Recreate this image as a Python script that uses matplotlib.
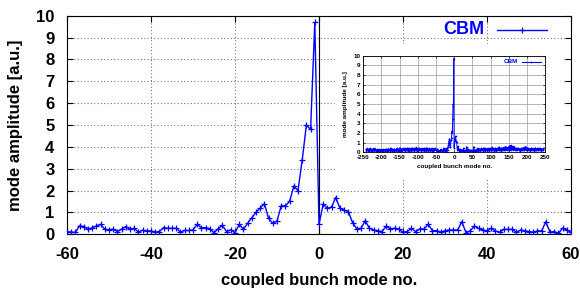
import matplotlib
matplotlib.use("Agg")
import matplotlib.pyplot as plt

plt.rcParams['font.family'] = ['Liberation Sans', 'DejaVu Sans']
plt.rcParams['font.weight'] = 'bold'
plt.rcParams['axes.unicode_minus'] = False

# main plot data: coupled bunch modes -60..60
modes = list(range(-60, 61))
amplitude = [
    0.11, 0.10, 0.08, 0.39, 0.35, 0.23, 0.29, 0.38, 0.45, 0.23,
    0.20, 0.23, 0.12, 0.23, 0.35, 0.23, 0.27, 0.10, 0.18, 0.15,
    0.15, 0.10, 0.12, 0.30, 0.27, 0.27, 0.27, 0.10, 0.17, 0.17,
    0.20, 0.45, 0.30, 0.30, 0.25, 0.07, 0.25, 0.40, 0.12, 0.20,
    0.07, 0.45, 0.22, 0.50, 0.75, 1.00, 1.20, 1.40, 0.72, 0.50,
    0.60, 1.30, 1.30, 1.50, 2.20, 2.00, 3.40, 5.00, 4.80, 9.70,
    0.45,
    1.38, 1.18, 1.25, 1.68, 1.18, 1.10, 1.03, 0.53, 0.24, 0.27,
    0.62, 0.27, 0.19, 0.16, 0.12, 0.37, 0.24, 0.27, 0.22, 0.09,
    0.12, 0.27, 0.12, 0.24, 0.24, 0.45, 0.16, 0.16, 0.09, 0.16,
    0.19, 0.19, 0.19, 0.57, 0.07, 0.15, 0.37, 0.27, 0.19, 0.15,
    0.27, 0.15, 0.09, 0.22, 0.22, 0.22, 0.09, 0.19, 0.15, 0.12,
    0.09, 0.15, 0.15, 0.57, 0.09, 0.12, 0.04, 0.27, 0.19, 0.09,
]

# inset: remaining modes
modes_left = list(range(-242, -60))
amp_left = [
    0.30, 0.12, 0.35, 0.22, 0.40, 0.18, 0.28, 0.33, 0.15, 0.38,
    0.25, 0.20, 0.42, 0.17, 0.30, 0.27, 0.12, 0.35, 0.22, 0.31,
    0.19, 0.40, 0.26, 0.14, 0.33, 0.21, 0.37, 0.16, 0.29, 0.24,
    0.11, 0.30, 0.20, 0.26, 0.15, 0.32, 0.18, 0.23, 0.28, 0.13,
    0.25, 0.19, 0.30, 0.14, 0.22, 0.27, 0.17, 0.31, 0.12, 0.24,
    0.20, 0.28, 0.15, 0.33, 0.18, 0.26, 0.21, 0.35, 0.16, 0.29,
    0.23, 0.14, 0.38, 0.19, 0.27, 0.31, 0.17, 0.24, 0.45, 0.20,
    0.28, 0.15, 0.34, 0.22, 0.18, 0.30, 0.25, 0.13, 0.36, 0.21,
    0.27, 0.19, 0.32, 0.16, 0.40, 0.23, 0.29, 0.14, 0.35, 0.26,
    0.18, 0.31, 0.22, 0.48, 0.20, 0.33, 0.17, 0.28, 0.24, 0.37,
    0.15, 0.30, 0.42, 0.21, 0.34, 0.19, 0.27, 0.44, 0.16, 0.32,
    0.25, 0.38, 0.20, 0.29, 0.46, 0.18, 0.35, 0.23, 0.41, 0.17,
    0.30, 0.26, 0.39, 0.14, 0.33, 0.22, 0.47, 0.19, 0.28, 0.36,
    0.21, 0.43, 0.16, 0.31, 0.25, 0.38, 0.20, 0.29, 0.50, 0.18,
    0.34, 0.24, 0.40, 0.15, 0.32, 0.27, 0.44, 0.21, 0.30, 0.37,
    0.17, 0.35, 0.26, 0.42, 0.19, 0.31, 0.23, 0.39, 0.14, 0.28,
    0.45, 0.20, 0.33, 0.25, 0.38, 0.16, 0.30, 0.48, 0.22, 0.35,
    0.18, 0.29, 0.41, 0.24, 0.32, 0.15, 0.37, 0.21, 0.30, 0.26,
    0.43, 0.19,
]
modes_right = list(range(61, 247))
amp_right = [
    0.22, 0.35, 0.18, 0.30, 0.41, 0.15, 0.27, 0.38, 0.20, 0.33,
    0.25, 0.12, 0.36, 0.29, 0.44, 0.19, 0.31, 0.24, 0.40, 0.17,
    0.28, 0.35, 0.21, 0.47, 0.26, 0.14, 0.32, 0.39, 0.23, 0.30,
    0.18, 0.42, 0.27, 0.34, 0.16, 0.38, 0.25, 0.45, 0.20, 0.31,
    0.36, 0.22, 0.29, 0.50, 0.19, 0.33, 0.26, 0.41, 0.15, 0.37,
    0.28, 0.23, 0.46, 0.30, 0.18, 0.35, 0.42, 0.24, 0.32, 0.20,
    0.39, 0.27, 0.55, 0.21, 0.34, 0.29, 0.44, 0.17, 0.36, 0.25,
    0.48, 0.22, 0.31, 0.38, 0.26, 0.52, 0.19, 0.35, 0.28, 0.43,
    0.24, 0.60, 0.30, 0.37, 0.21, 0.49, 0.33, 0.27, 0.56, 0.23,
    0.40, 0.68, 0.29, 0.45, 0.35, 0.72, 0.26, 0.51, 0.38, 0.31,
    0.62, 0.24, 0.43, 0.34, 0.57, 0.28, 0.39, 0.22, 0.47, 0.32,
    0.26, 0.41, 0.19, 0.36, 0.30, 0.44, 0.23, 0.33, 0.27, 0.39,
    0.18, 0.35, 0.29, 0.42, 0.21, 0.31, 0.25, 0.46, 0.20, 0.34,
    0.28, 0.53, 0.24, 0.37, 0.30, 0.58, 0.22, 0.40, 0.33, 0.48,
    0.26, 0.36, 0.19, 0.43, 0.29, 0.32, 0.24, 0.39, 0.17, 0.35,
    0.27, 0.45, 0.21, 0.31, 0.38, 0.25, 0.42, 0.18, 0.34, 0.28,
    0.36, 0.22, 0.47, 0.26, 0.33, 0.19, 0.40, 0.29, 0.24, 0.37,
    0.20, 0.32, 0.44, 0.27, 0.35, 0.23, 0.41, 0.30, 0.18, 0.38,
    0.25, 0.33, 0.21, 0.36, 0.28, 0.45,
]

xticks = [-60, -40, -20, 0, 20, 40, 60]
yticks = list(range(0, 11))
inset_xticks = list(range(-250, 251, 50))

blue = '#0000ff'

fig = plt.figure(figsize=(5.8, 2.91), dpi=100)
ax = fig.add_axes([0.1155, 0.1952, 0.869, 0.7505])

ax.plot(modes, amplitude, color=blue, lw=1.0, marker='+', ms=5, mew=0.9, zorder=3)
ax.axvline(0, color='black', lw=0.8, zorder=2)
ax.set_xlim(-60, 60)
ax.set_ylim(0, 10)
ax.set_xticks(xticks)
ax.set_yticks(yticks)
ax.tick_params(direction='in', top=True, right=True, length=4, width=0.8,
               labelsize=12)
ax.tick_params(axis='x', pad=9)
ax.tick_params(axis='y', pad=9)
for lab in ax.get_xticklabels() + ax.get_yticklabels():
    lab.set_fontweight('bold')
ax.grid(True, color='#777777', lw=0.8, linestyle=(0, (1, 2)))
ax.set_xlabel('coupled bunch mode no.', fontsize=12, fontweight='bold', va='center')
ax.xaxis.set_label_coords(0.5, -0.214)
ax.set_ylabel('mode amplitude [a.u.]', fontsize=12, fontweight='bold', va='center')
ax.yaxis.set_label_coords(-0.103, 0.5)

# legend drawn gnuplot style: text then sample line
ax.text(0.829, 0.935, 'CBM', transform=ax.transAxes, color=blue, fontsize=13,
        fontweight='bold', ha='right', va='center')
ax.plot([0.853, 0.952], [0.935, 0.935], transform=ax.transAxes, color=blue, lw=1.0,
        clip_on=False)
ax.plot([0.9025], [0.935], transform=ax.transAxes, color=blue, marker='+', ms=5,
        mew=0.9, clip_on=False)

# white backdrop for inset
fig.patches.append(plt.Rectangle((0.578, 0.381), 0.391, 0.467, transform=fig.transFigure,
                                 facecolor='white', edgecolor='none', zorder=5))

ins = fig.add_axes([0.626, 0.4766, 0.314, 0.332], zorder=6)
all_modes = modes_left + modes + modes_right
all_amp = amp_left + amplitude + amp_right
ins.plot(all_modes, all_amp, color=blue, lw=0.7, marker='+', ms=1.2, mew=0.4)
ins.set_xlim(-250, 250)
ins.set_ylim(0, 10)
ins.set_xticks(inset_xticks)
ins.set_yticks(yticks)
ins.tick_params(direction='in', top=True, right=True, length=1.5, width=0.5,
                labelsize=4.5, pad=2)
for lab in ins.get_xticklabels() + ins.get_yticklabels():
    lab.set_fontweight('bold')
for sp in ins.spines.values():
    sp.set_linewidth(0.6)
ins.grid(True, color='#999999', lw=0.5)
ins.set_xlabel('coupled bunch mode no.', fontsize=4.6, fontweight='bold', labelpad=3)
ins.set_ylabel('mode amplitude [a.u.]', fontsize=4.6, fontweight='bold', labelpad=4)
ins.text(0.85, 0.938, 'CBM', transform=ins.transAxes, color=blue, fontsize=4.6,
         fontweight='bold', ha='right', va='center')
ins.plot([0.87, 0.975], [0.938, 0.938], transform=ins.transAxes, color=blue, lw=0.8)
ins.plot([0.9225], [0.938], transform=ins.transAxes, color=blue, marker='+', ms=1.5, mew=0.5)

fig.savefig('out.png', dpi=100)
